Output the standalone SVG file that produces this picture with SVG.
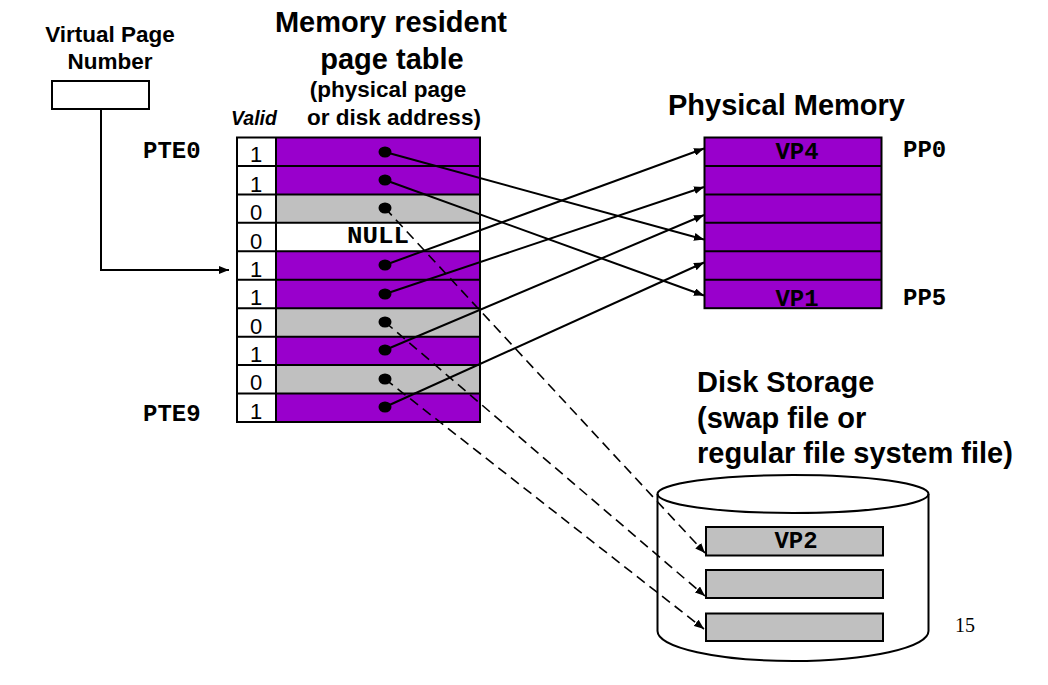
<svg xmlns="http://www.w3.org/2000/svg" width="1048" height="685" viewBox="0 0 1048 685">
<defs>
<style>
.t{font-family:"Liberation Sans",Arial,sans-serif;font-weight:bold;fill:#000}
.m{font-family:"Liberation Mono","Courier New",monospace;font-weight:bold;fill:#000;font-size:24px}
.v{font-family:"Liberation Sans",Arial,sans-serif;font-size:22px;fill:#000;text-anchor:middle}
.box{stroke:#000;stroke-width:2}
.p{fill:#9900CC}
.g{fill:#C0C0C0}
.w{fill:#fff}
.ln{stroke:#000;stroke-width:2;fill:none}
.dl{stroke:#000;stroke-width:1.6;fill:none;stroke-dasharray:10,6}
</style>
<marker id="ah" viewBox="0 0 10 8" refX="10" refY="4" markerWidth="10" markerHeight="8" markerUnits="userSpaceOnUse" orient="auto">
<path d="M0,0 L10,4 L0,8 z" fill="#000"/>
</marker>
</defs>
<rect width="1048" height="685" fill="#fff"/>

<g id="titles">
<text class="t" x="110" y="42" font-size="22.5" text-anchor="middle">Virtual Page</text>
<text class="t" x="110" y="69" font-size="22.5" text-anchor="middle">Number</text>
<text class="t" x="391" y="31.5" font-size="29" text-anchor="middle">Memory resident</text>
<text class="t" x="392" y="69" font-size="29" text-anchor="middle">page table</text>
<text class="t" x="388" y="96.5" font-size="22.5" text-anchor="middle">(physical page</text>
<text class="t" x="394" y="125" font-size="22.5" text-anchor="middle">or disk address)</text>
<text class="t" x="231" y="125" font-size="19.5" font-style="italic">Valid</text>
<text class="t" x="668" y="115" font-size="29">Physical Memory</text>
<text class="t" x="697" y="392" font-size="29">Disk Storage</text>
<text class="t" x="697" y="427.5" font-size="29">(swap file or</text>
<text class="t" x="697" y="463" font-size="29">regular file system file)</text>
<text x="955" y="632" font-family="'Liberation Serif','Times New Roman',serif" font-size="20">15</text>
</g>

<g id="vpn">
<rect x="52" y="81" width="97" height="28" fill="#fff" class="box"/>
</g>

<g id="page-table">
<text class="m" x="143" y="158">PTE0</text>
<text class="m" x="143" y="421">PTE9</text>
<rect x="276" y="137.5" width="204" height="28.45" class="p"/>
<rect x="276" y="165.95" width="204" height="28.45" class="p"/>
<rect x="276" y="194.4" width="204" height="28.45" class="g"/>
<rect x="276" y="222.85" width="204" height="28.45" class="w"/>
<rect x="276" y="251.3" width="204" height="28.45" class="p"/>
<rect x="276" y="279.75" width="204" height="28.45" class="p"/>
<rect x="276" y="308.2" width="204" height="28.45" class="g"/>
<rect x="276" y="336.65" width="204" height="28.45" class="p"/>
<rect x="276" y="365.1" width="204" height="28.45" class="g"/>
<rect x="276" y="393.55" width="204" height="28.45" class="p"/>
<rect x="237" y="137.5" width="39" height="284.5" class="w"/>
<g class="ln">
<line x1="237" y1="165.95" x2="480" y2="165.95"/>
<line x1="237" y1="194.4" x2="480" y2="194.4"/>
<line x1="237" y1="222.85" x2="480" y2="222.85"/>
<line x1="237" y1="251.3" x2="480" y2="251.3"/>
<line x1="237" y1="279.75" x2="480" y2="279.75"/>
<line x1="237" y1="308.2" x2="480" y2="308.2"/>
<line x1="237" y1="336.65" x2="480" y2="336.65"/>
<line x1="237" y1="365.1" x2="480" y2="365.1"/>
<line x1="237" y1="393.55" x2="480" y2="393.55"/>
<line x1="276" y1="137.5" x2="276" y2="422"/>
<rect x="237" y="137.5" width="243" height="284.5"/>
</g>
<text class="v" x="256" y="162">1</text>
<text class="v" x="256" y="192">1</text>
<text class="v" x="256" y="220">0</text>
<text class="v" x="256" y="249">0</text>
<text class="v" x="256" y="277">1</text>
<text class="v" x="256" y="305">1</text>
<text class="v" x="256" y="334">0</text>
<text class="v" x="256" y="362">1</text>
<text class="v" x="256" y="390">0</text>
<text class="v" x="256" y="419">1</text>
<text class="m" x="347" y="243" textLength="62" lengthAdjust="spacingAndGlyphs">NULL</text>
<g fill="#000">
<ellipse cx="385" cy="152" rx="6.5" ry="5.5"/>
<ellipse cx="385" cy="180" rx="6.5" ry="5.5"/>
<ellipse cx="385" cy="208" rx="6.5" ry="5.5"/>
<ellipse cx="385" cy="265" rx="6.5" ry="5.5"/>
<ellipse cx="385" cy="294" rx="6.5" ry="5.5"/>
<ellipse cx="385" cy="322" rx="6.5" ry="5.5"/>
<ellipse cx="385" cy="350" rx="6.5" ry="5.5"/>
<ellipse cx="385" cy="379" rx="6.5" ry="5.5"/>
<ellipse cx="385" cy="407" rx="6.5" ry="5.5"/>
</g>
</g>

<g id="physical-memory">
<rect x="704.5" y="137.5" width="177" height="170.7" class="p"/>
<g class="ln">
<line x1="704.5" y1="165.95" x2="881.5" y2="165.95"/>
<line x1="704.5" y1="194.4" x2="881.5" y2="194.4"/>
<line x1="704.5" y1="222.85" x2="881.5" y2="222.85"/>
<line x1="704.5" y1="251.3" x2="881.5" y2="251.3"/>
<line x1="704.5" y1="279.75" x2="881.5" y2="279.75"/>
<rect x="704.5" y="137.5" width="177" height="170.7"/>
</g>
<text class="m" x="797" y="159" text-anchor="middle">VP4</text>
<text class="m" x="797" y="306" text-anchor="middle">VP1</text>
<text class="m" x="903" y="157">PP0</text>
<text class="m" x="903" y="305">PP5</text>
</g>

<g id="disk">
<path d="M657.5,494 L657.5,631 A135.5,30 0 0 0 928.5,631 L928.5,494" fill="#fff" class="ln"/>
<ellipse cx="793" cy="494" rx="135.5" ry="19" fill="#fff" class="ln"/>
<rect x="706" y="527" width="177" height="28.5" class="g box"/>
<rect x="706" y="570" width="177" height="28" class="g box"/>
<rect x="706" y="613.5" width="177" height="27.5" class="g box"/>
<text class="m" x="796" y="548" text-anchor="middle">VP2</text>
</g>

<g id="connectors">
<polyline points="101,109 101,270 229,270" class="ln" marker-end="url(#ah)"/>
<line x1="385" y1="152" x2="704" y2="239.5" class="ln" marker-end="url(#ah)"/>
<line x1="385" y1="180" x2="704" y2="295.5" class="ln" marker-end="url(#ah)"/>
<line x1="385" y1="265" x2="704" y2="148.5" class="ln" marker-end="url(#ah)"/>
<line x1="385" y1="294" x2="704" y2="187" class="ln" marker-end="url(#ah)"/>
<line x1="385" y1="350" x2="704" y2="215" class="ln" marker-end="url(#ah)"/>
<line x1="385" y1="407" x2="704" y2="262.5" class="ln" marker-end="url(#ah)"/>
<line x1="385" y1="208" x2="705" y2="553" class="dl" marker-end="url(#ah)"/>
<line x1="385" y1="322" x2="705" y2="596" class="dl" marker-end="url(#ah)"/>
<line x1="385" y1="379" x2="704" y2="629" class="dl" marker-end="url(#ah)"/>
</g>
</svg>
